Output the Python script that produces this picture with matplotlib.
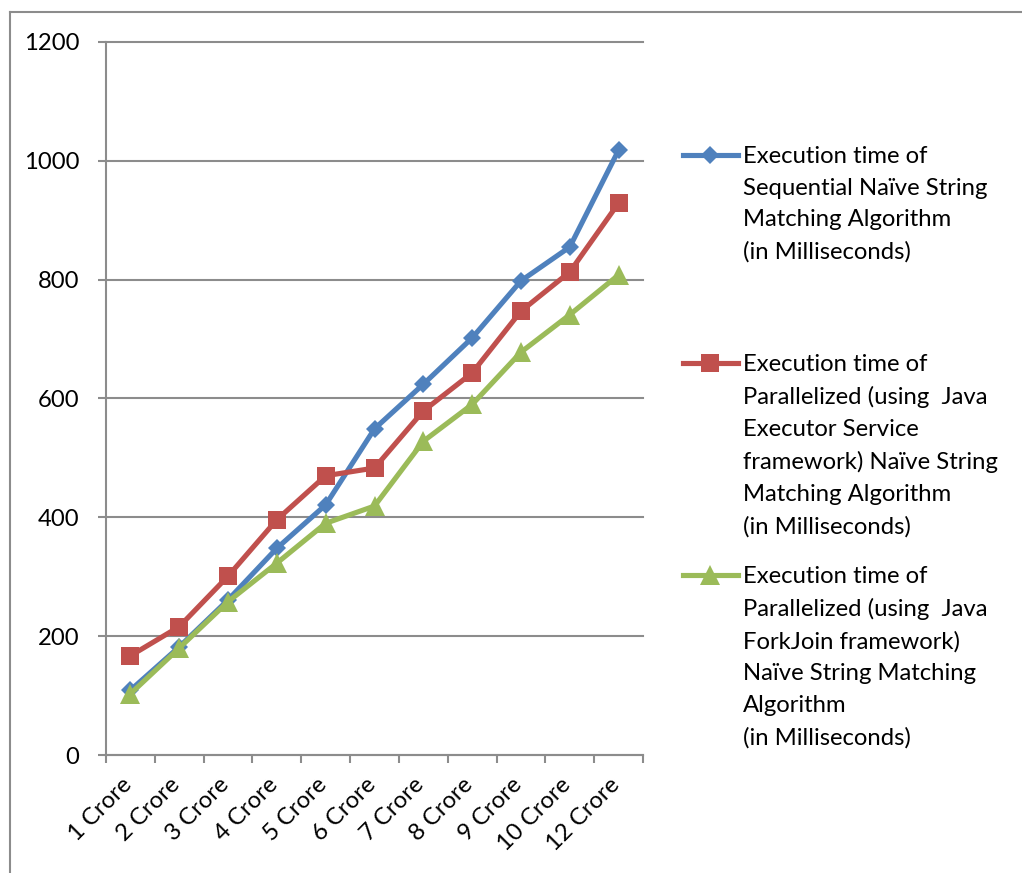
import matplotlib
matplotlib.use("Agg")
import matplotlib.pyplot as plt
import matplotlib.transforms as mtransforms
from matplotlib.lines import Line2D
import numpy as np

plt.rcParams["font.family"] = ["Lato", "DejaVu Sans"]

# Input sizes (number of characters searched)
categories = ["1 Crore", "2 Crore", "3 Crore", "4 Crore", "5 Crore", "6 Crore",
              "7 Crore", "8 Crore", "9 Crore", "10 Crore", "12 Crore"]

# Execution times in milliseconds
sequential_ms = [109, 182, 261, 348, 421, 549, 624, 702, 798, 855, 1018]
executor_ms = [167, 216, 301, 396, 470, 483, 579, 643, 747, 813, 929]
forkjoin_ms = [103, 180, 258, 323, 390, 419, 528, 590, 678, 741, 808]

y_ticks = [0, 200, 400, 600, 800, 1000, 1200]

series_labels = [
    "Execution time of\nSequential Naïve String\nMatching Algorithm\n(in Milliseconds)",
    "Execution time of\nParallelized (using  Java\nExecutor Service\nframework) Naïve String\nMatching Algorithm\n(in Milliseconds)",
    "Execution time of\nParallelized (using  Java\nForkJoin framework)\nNaïve String Matching\nAlgorithm\n(in Milliseconds)",
]

BLUE, RED, GREEN = "#4F81BD", "#C0504D", "#9BBB59"
GRAY = "#8C8C8C"
FS = 17.2

W, H = 1022, 873
fig = plt.figure(figsize=(W / 100, H / 100), dpi=100)


def fx(px):
    return px / W


def fy(py):
    return 1 - py / H


ax = fig.add_axes([fx(106), fy(755), fx(643 - 106), (755 - 42) / H])

x = np.arange(len(categories))
styles = [
    (sequential_ms, BLUE, "D", 9.0),
    (executor_ms, RED, "s", 13.5),
    (forkjoin_ms, GREEN, "^", 14.0),
]
for values, color, marker, ms in styles:
    ax.plot(x, values, color=color, lw=3.7, marker=marker, markersize=ms,
            markeredgewidth=0, solid_joinstyle="round", clip_on=False, zorder=3)

ax.set_xlim(-0.5, len(categories) - 0.5)
ax.set_ylim(0, 1200)
ax.set_yticks(y_ticks)
ax.set_yticklabels([str(v) for v in y_ticks], fontsize=FS)
ax.yaxis.grid(True, color=GRAY, lw=1.5)
for gl in ax.get_ygridlines():
    gl.set_clip_on(False)
ax.set_axisbelow(True)

for side in ("top", "right"):
    ax.spines[side].set_visible(False)
for side in ("left", "bottom"):
    ax.spines[side].set_color(GRAY)
    ax.spines[side].set_linewidth(1.5)

ax.tick_params(axis="y", length=6, width=1.5, color=GRAY, pad=13)

ax.set_xticks(x)
ax.set_xticks(np.arange(-0.5, len(categories), 1.0), minor=True)
ax.set_xticklabels(categories, rotation=45, ha="right", va="top", fontsize=FS)
ax.tick_params(axis="x", which="major", length=0, pad=13.5)
ax.tick_params(axis="x", which="minor", length=6, width=1.5, color=GRAY)
shift = mtransforms.ScaledTranslation(0.05, 0, fig.dpi_scale_trans)
for lbl in ax.get_xticklabels():
    lbl.set_transform(lbl.get_transform() + shift)

# Legend entries drawn at the right of the plot area
legend_rows = [155, 363, 575]
for (values, color, marker, ms), label, yrow in zip(styles, series_labels, legend_rows):
    fig.add_artist(Line2D([fx(683), fx(738)], [fy(yrow), fy(yrow)],
                          transform=fig.transFigure, color=color, lw=3.7))
    fig.add_artist(Line2D([fx(710)], [fy(yrow)], transform=fig.transFigure,
                          color=color, marker=marker, markersize=ms,
                          markeredgewidth=0))
    fig.text(fx(743), fy(yrow - 9), label, fontsize=FS, va="top", ha="left",
             linespacing=1.62)

# Outer chart frame
fig.add_artist(Line2D([fx(10), 1], [fy(12), fy(12)], transform=fig.transFigure,
                      color=GRAY, lw=1.5))
fig.add_artist(Line2D([fx(10), fx(10)], [fy(12), 0], transform=fig.transFigure,
                      color=GRAY, lw=1.5))

fig.savefig("out.png", dpi=100)
